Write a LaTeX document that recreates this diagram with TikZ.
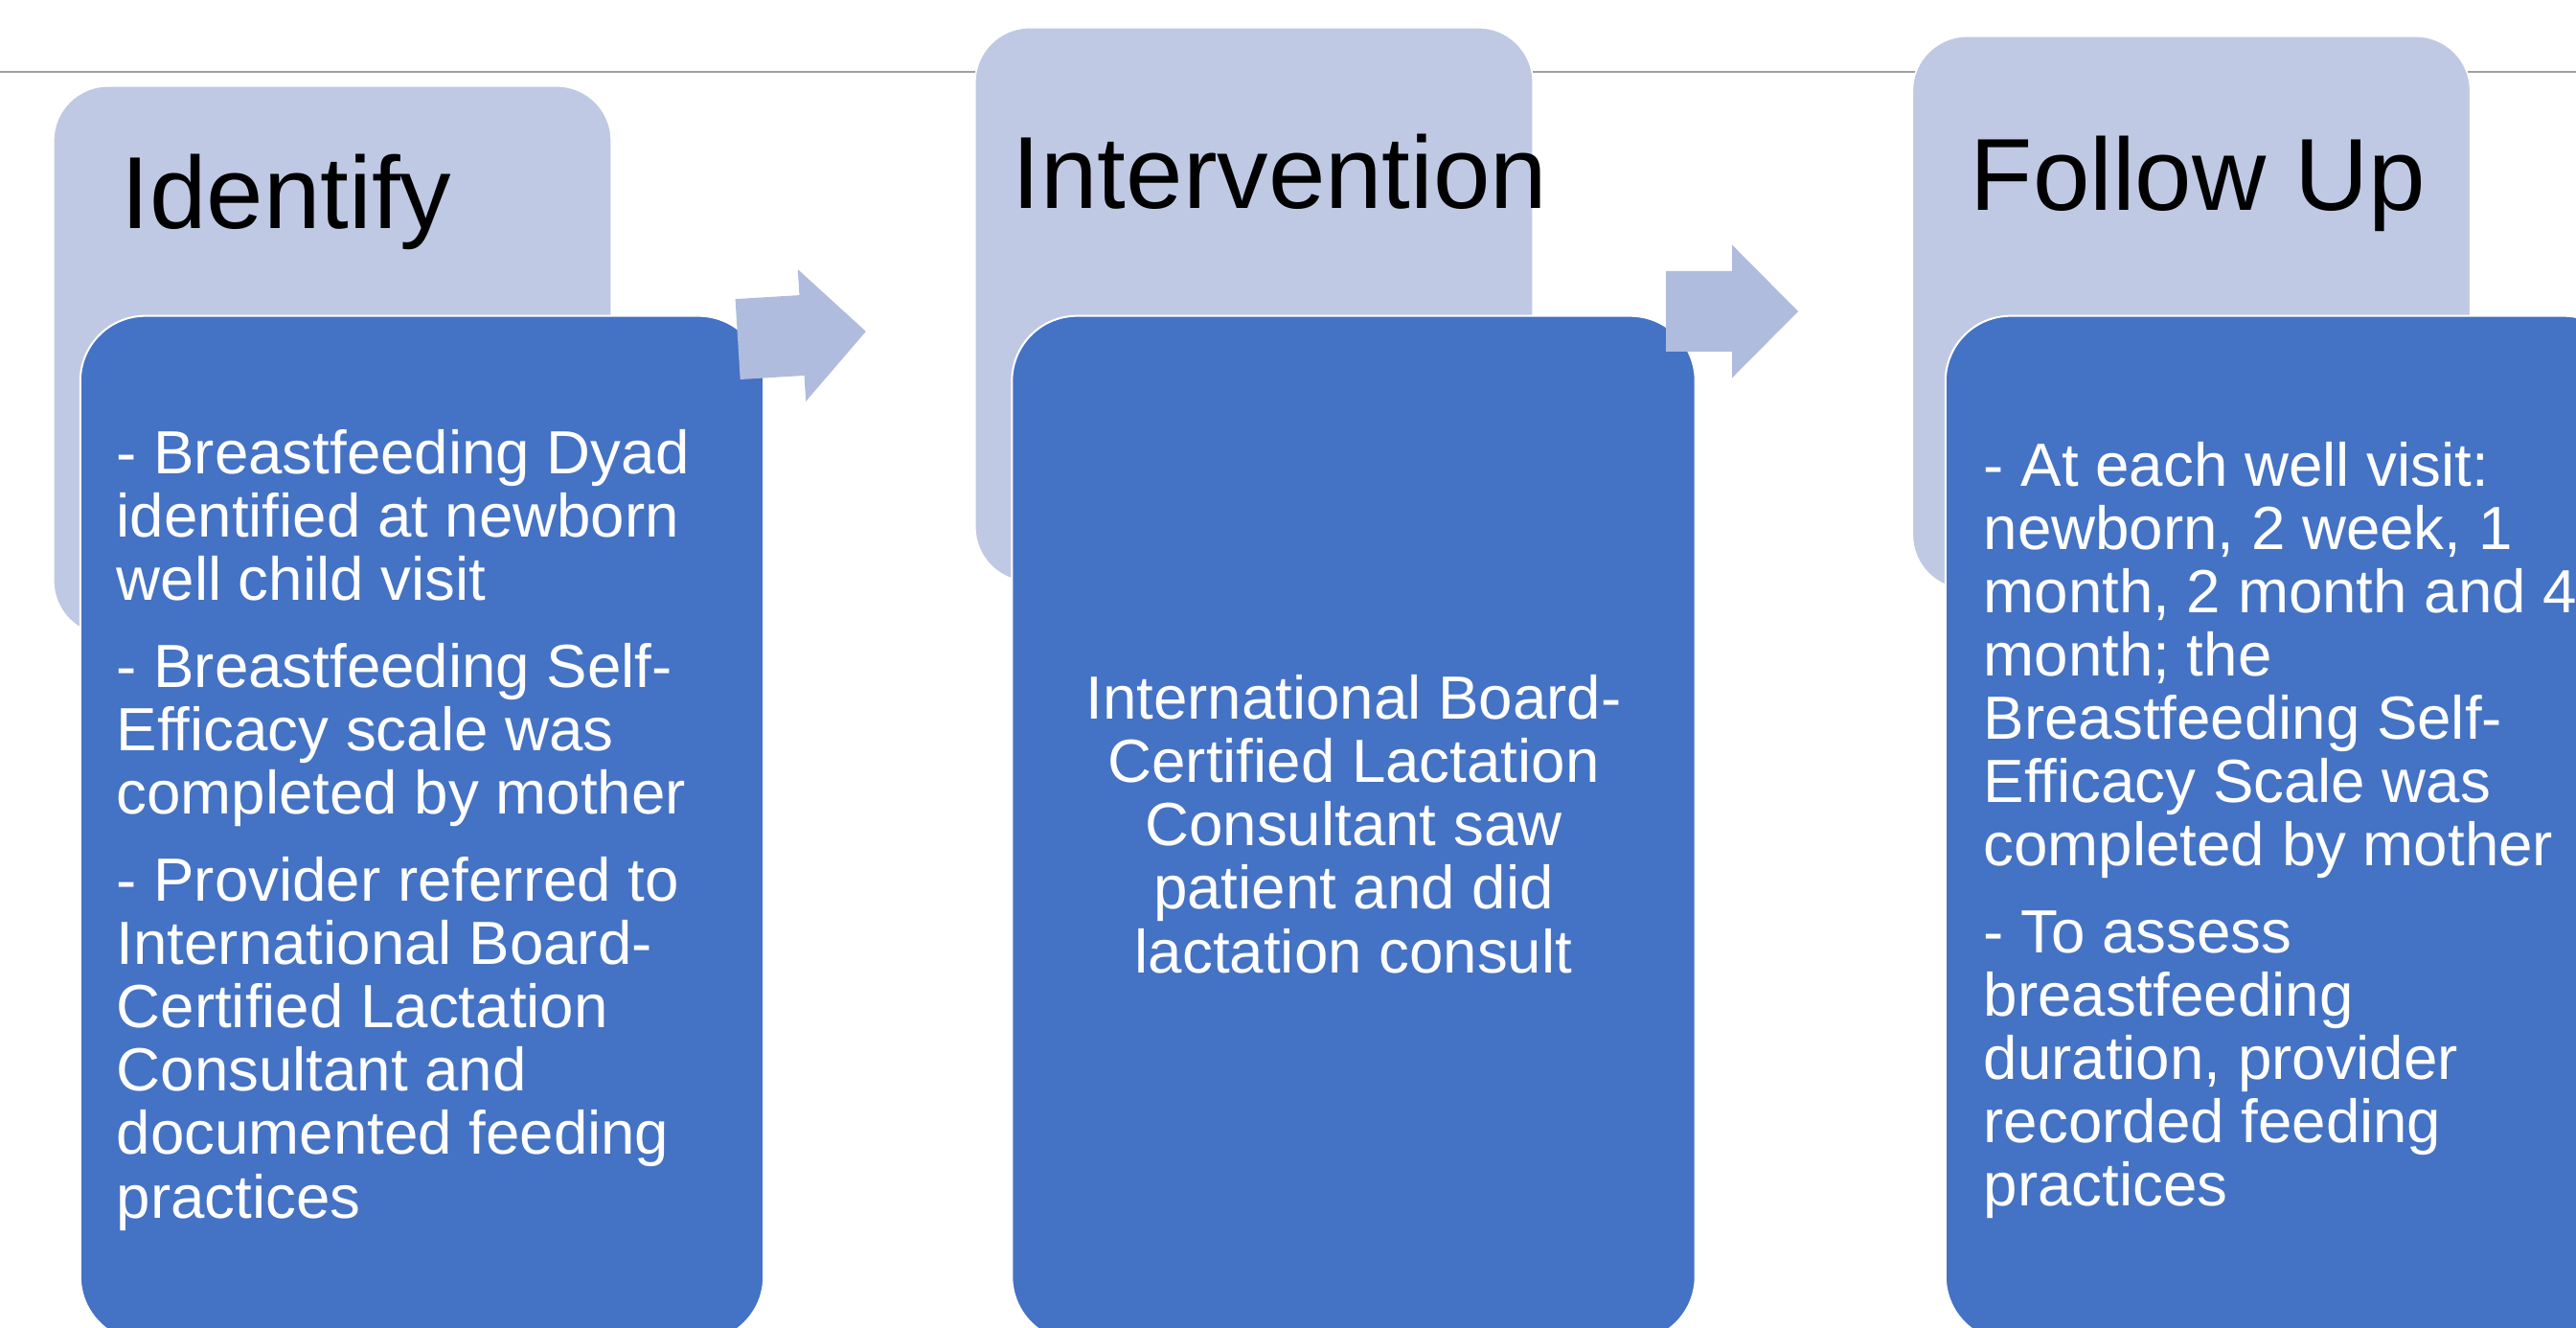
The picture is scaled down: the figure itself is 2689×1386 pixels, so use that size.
\documentclass[tikz,border=0pt]{standalone}
\usepackage{fontspec}
\setmainfont{Liberation Sans}
\definecolor{stagelight}{RGB}{191,201,227}
\definecolor{stagedark}{RGB}{68,114,196}
\definecolor{arrowfill}{RGB}{175,188,222}
\definecolor{rulegray}{RGB}{160,160,160}

\tikzset{
  headbox/.style={draw=white, line width=0.015cm, fill=stagelight, rounded corners=0.57cm, minimum width=5.82cm, inner sep=0},
  bodybox/.style={draw=white, line width=0.02cm, fill=stagedark, rounded corners=0.68cm, minimum width=7.13cm, minimum height=10.7cm, inner sep=0},
  headtext/.style={anchor=base west, inner sep=0, font=\fontsize{30.4pt}{36pt}\selectfont},
  bodytext/.style={anchor=base west, inner sep=0, align=left, text=white, font=\fontsize{18.1pt}{18.78pt}\selectfont},
  blockarrow/.style={fill=arrowfill}
}

\begin{document}
\begin{tikzpicture}[x=0.01cm, y=-0.01cm]
\useasboundingbox (0,0) rectangle (2689,1386);
\clip (0,0) rectangle (2689,1386);

\draw[rulegray, line width=0.02cm] (0,75) -- (2689,75);

% stage headers
\node[headbox, minimum height=5.73cm] (idbox) at (347,376.5) {};
\node[headbox, minimum height=5.78cm] (intbox) at (1309,318) {};
\node[headbox, minimum height=5.77cm] (fubox) at (2287.5,326.5) {};

% stage contents
\node[bodybox] (idbody) at (440.5,865) {};
\node[bodybox] (intbody) at (1413,865) {};
\node[bodybox] (fubody) at (2387.5,865) {};

% arrows between stages
\coordinate (arr1) at (837,350);
\coordinate (arr2) at (1808,325);
\fill[blockarrow, shift={(arr1)}, rotate=3.5] (-67,-42) -- (0,-42) -- (0,-69) -- (67,0) -- (0,69) -- (0,42) -- (-67,42) -- cycle;
\fill[blockarrow, shift={(arr2)}] (-69,-42) -- (0,-42) -- (0,-69.5) -- (69,0) -- (0,69.5) -- (0,42) -- (-69,42) -- cycle;

\node[headtext] (idtitle) at (126,239) {Identify};
\node[headtext] (inttitle) at (1056,218) {Intervention};
\node[headtext] (futitle) at (2056,220) {Follow Up};

% base of a multi-line node is its last line
\node[bodytext] (idtext) at (121,1271) {- Breastfeeding Dyad\\identified at newborn\\well child visit\\[7.1pt]
  - Breastfeeding Self-\\Efficacy scale was\\completed by mother\\[7.1pt]
  - Provider referred to\\International Board-\\Certified Lactation\\Consultant and\\documented feeding\\practices};
\node[bodytext, anchor=base, align=center] (inttext) at (1413,1015) {International Board-\\Certified Lactation\\Consultant saw\\patient and did\\lactation consult};
\node[bodytext] (futext) at (2070,1258.5) {- At each well visit:\\newborn, 2 week, 1\\month, 2 month and 4\\month; the\\Breastfeeding Self-\\Efficacy Scale was\\completed by mother\\[7.1pt]
  - To assess\\breastfeeding\\duration, provider\\recorded feeding\\practices};
\end{tikzpicture}
\end{document}
